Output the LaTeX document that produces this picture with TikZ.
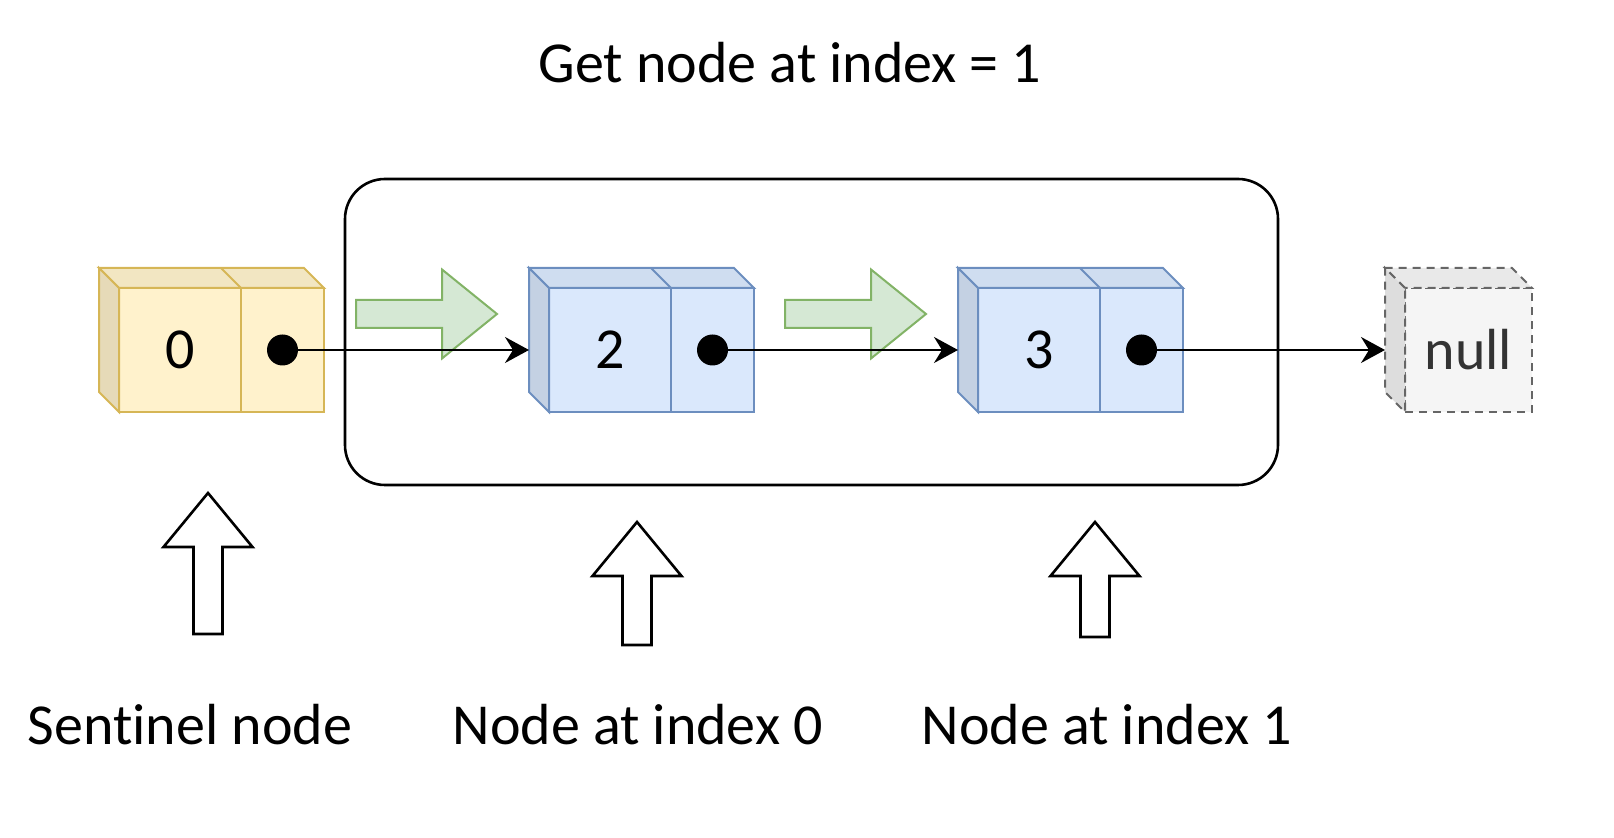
\documentclass[tikz,border=0pt]{standalone}
\usepackage{fontspec}
\setmainfont{Carlito}[Ligatures=NoCommon]
\usetikzlibrary{positioning,calc,arrows.meta}

\definecolor{sentfill}{HTML}{FFF2CC}
\definecolor{senttop}{HTML}{F2E6C2}
\definecolor{sentside}{HTML}{E6DAB8}
\definecolor{sentline}{HTML}{D6B656}
\definecolor{itemfill}{HTML}{DAE8FC}
\definecolor{itemtop}{HTML}{CFDDF0}
\definecolor{itemside}{HTML}{C4D1E3}
\definecolor{itemline}{HTML}{6C8EBF}
\definecolor{nullfill}{HTML}{F5F5F5}
\definecolor{nulltop}{HTML}{E9E9E9}
\definecolor{nullside}{HTML}{DDDDDD}
\definecolor{nullline}{HTML}{666666}
\definecolor{stepfill}{HTML}{D5E8D4}
\definecolor{stepline}{HTML}{82B366}

% top and left faces of a cube, drawn behind its front cells
\newcommand{\cubefaces}[5]{%
  \filldraw[#5, fill=#3] (#1.north west) -- ++(-20,-20)
    -- ($(#2.north east)+(-20,-20)$) -- (#2.north east) -- cycle;
  \filldraw[#5, fill=#4] (#1.north west) -- ++(-20,-20)
    -- ($(#1.south west)+(-20,-20)$) -- (#1.south west) -- cycle;
}

\tikzset{
  cell/.style={draw, line width=1pt, outer sep=0pt, inner sep=0pt,
    minimum height=62pt, font=\fontsize{29}{34}\selectfont},
  valcell/.style={cell, minimum width=61pt},
  ptrcell/.style={cell, minimum width=41.5pt},
  sentinel/.style={draw=sentline, fill=sentfill},
  listitem/.style={draw=itemline, fill=itemfill},
  nulldash/.style={dash pattern=on 4pt off 3pt},
  nullbox/.style={draw=nullline, fill=nullfill, nulldash},
  dot/.style={circle, fill=black, inner sep=0pt, minimum size=15.5pt},
  link/.style={-{Stealth[length=12pt,width=13pt,inset=4pt]}, line width=1pt},
  stepmark/.style={fill=stepfill, draw=stepline, line width=1pt},
  pointer/.style={fill=white, draw=black, line width=1.3pt},
  label/.style={font=\fontsize{29}{34}\selectfont, anchor=base},
}

\begin{document}
\begin{tikzpicture}[x=0.5pt, y=-0.5pt]
    \useasboundingbox (0,0) rectangle (1614,838);

    % Title
    \node[label] (title) at (790,83) {Get node at index = 1};

    % Frame round the list
    \draw[line width=1.3pt, rounded corners=20pt] (345,179) rectangle (1278,485);

    % Sentinel node
    \node[valcell, sentinel] (s) at (180,350) {0};
    \node[ptrcell, sentinel, right=0pt of s] (sp) {};
    \cubefaces{s}{sp}{senttop}{sentside}{draw=sentline, line width=1pt}
    \draw[sentline, line width=1pt] (s.north east) -- ++(-20,-20);
    \node[dot] (sd) at (sp.center) {};

    % Node at index 0
    \node[valcell, listitem] (a) at (610,350) {2};
    \node[ptrcell, listitem, right=0pt of a] (ap) {};
    \cubefaces{a}{ap}{itemtop}{itemside}{draw=itemline, line width=1pt}
    \draw[itemline, line width=1pt] (a.north east) -- ++(-20,-20);
    \node[dot] (ad) at (ap.center) {};
    \coordinate (ain) at ($(a.west)+(-20,0)$);

    % Node at index 1
    \node[valcell, listitem] (b) at (1039,350) {3};
    \node[ptrcell, listitem, right=0pt of b] (bp) {};
    \cubefaces{b}{bp}{itemtop}{itemside}{draw=itemline, line width=1pt}
    \draw[itemline, line width=1pt] (b.north east) -- ++(-20,-20);
    \node[dot] (bd) at (bp.center) {};
    \coordinate (bin) at ($(b.west)+(-20,0)$);

    % null
    \node[cell, nullbox, minimum width=63.5pt, text=black!80] (nl) at (1468.5,350) {null};
    \cubefaces{nl}{nl}{nulltop}{nullside}{draw=nullline, nulldash, line width=1pt}
    \coordinate (nlin) at ($(nl.west)+(-20,0)$);

    % Green step arrows
    \foreach \gx in {356,785}
      \draw[stepmark, shift={(\gx,314)}] (0,-14) -- (86,-14) -- (86,-44.5)
        -- (141,0) -- (86,44.5) -- (86,14) -- (0,14) -- cycle;

    % Links
    \draw[link] (sd.center) -- (ain);
    \draw[link] (ad.center) -- (bin);
    \draw[link] (bd.center) -- (nlin);

    % Up arrows
    \foreach \ux/\tip/\bot in {208/493/634, 637/522/645, 1095/522/637}
      \draw[pointer] (\ux,\tip) -- (\ux+44.5,\tip+54) -- (\ux+14.5,\tip+54)
        -- (\ux+14.5,\bot) -- (\ux-14.5,\bot) -- (\ux-14.5,\tip+54)
        -- (\ux-44.5,\tip+54) -- cycle;

    % Labels
    \node[label] (lsent) at (190,745) {Sentinel node};
    \node[label] (lidx0) at (637.6,745) {Node at index 0};
    \node[label] (lidx1) at (1106.7,745) {Node at index 1};
\end{tikzpicture}
\end{document}
